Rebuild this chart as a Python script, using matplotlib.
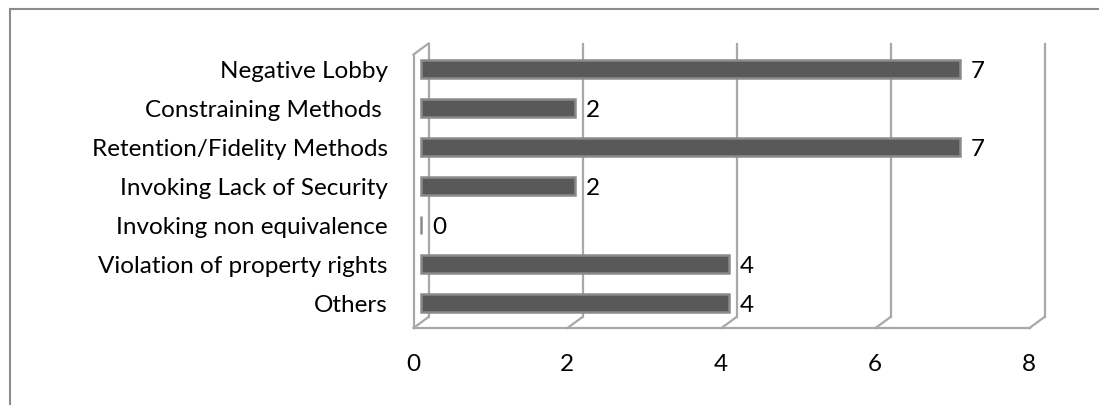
import matplotlib

matplotlib.use("Agg")
import matplotlib.pyplot as plt
from matplotlib.patches import Rectangle
from matplotlib.transforms import ScaledTranslation

categories = [
    "Others",
    "Violation of property rights",
    "Invoking non equivalence",
    "Invoking Lack of Security",
    "Retention/Fidelity Methods",
    "Constraining Methods ",
    "Negative Lobby",
]
counts = [4, 4, 0, 2, 7, 2, 7]
xticks = [0, 2, 4, 6, 8]

plt.rcParams["font.family"] = ["Lato", "DejaVu Sans"]

W, H = 1099, 406
fig = plt.figure(figsize=(W / 100, H / 100), dpi=100)
# axes placed so that the "middle depth" plane of the 3D box maps onto it
ax = fig.add_axes([421 / W, (H - 323.5) / H, 616 / W, 273.5 / H])
ax.set_xlim(0, 8)
ax.set_ylim(-0.5, 6.5)

# pixel -> data scale for the pseudo 3D depth offsets
px_x = 8 / 616
px_y = 7 / 273.5
dx = 7.5 * px_x
dy = 5.5 * px_y

frame_col = "#a8a8a8"
frame_kw = dict(color=frame_col, lw=1.6, clip_on=False, zorder=1)

# back wall gridlines
for t in xticks:
    ax.plot([t + dx, t + dx], [-0.5 + dy, 6.5 + dy], **frame_kw)

# floor: front edge and depth connectors
ax.plot([0 - dx, 8 - dx], [-0.5 - dy, -0.5 - dy], **frame_kw)
for t in xticks:
    ax.plot([t - dx, t + dx], [-0.5 - dy, -0.5 + dy], **frame_kw)

# left side wall
ax.plot([0 - dx, 0 - dx], [-0.5 - dy, 6.5 - dy], **frame_kw)
ax.plot([0 - dx, 0 + dx], [6.5 - dy, 6.5 + dy], **frame_kw)

# bars
ypos = list(range(len(categories)))
ax.barh(
    ypos,
    counts,
    height=0.46,
    color="#595959",
    edgecolor="#8a8a8a",
    linewidth=1.8,
    zorder=3,
    clip_on=False,
)

fs = 17.5
for y, v in zip(ypos, counts):
    ax.annotate(
        str(v),
        xy=(v, y),
        xytext=(8, 0),
        textcoords="offset points",
        ha="left",
        va="center_baseline",
        fontsize=fs,
        color="black",
    )

ax.set_yticks(ypos)
ax.set_yticklabels(categories, fontsize=fs)
ax.set_xticks(xticks)
ax.set_xticklabels([str(t) for t in xticks], fontsize=fs)
ax.tick_params(axis="y", length=0, pad=24)
ax.tick_params(axis="x", length=0, pad=22)
for lab in ax.get_xticklabels():
    lab.set_transform(
        lab.get_transform() + ScaledTranslation(-8 / 100, 0, fig.dpi_scale_trans)
    )

for s in ax.spines.values():
    s.set_visible(False)
ax.patch.set_visible(False)

# outer chart border (right and bottom edges fall outside the picture)
fig.add_artist(
    Rectangle(
        (9.5 / W, -0.5),
        2,
        (H - 9.5) / H + 0.5,
        transform=fig.transFigure,
        fill=False,
        edgecolor="#8c8c8c",
        lw=1.5,
    )
)

fig.savefig("out.png", dpi=100)
